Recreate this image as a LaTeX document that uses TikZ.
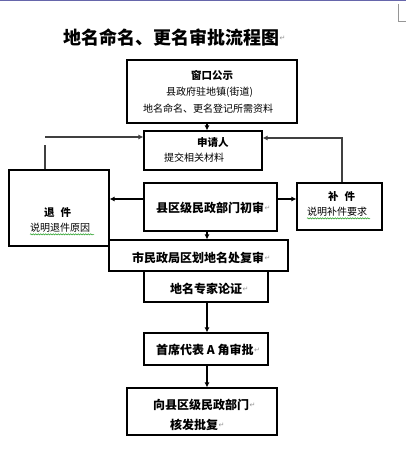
\documentclass[tikz,border=0pt]{standalone}
\usepackage{fontspec}
\setmainfont{Noto Sans CJK SC}
\newfontfamily\cjk{Noto Sans CJK SC}
\newfontfamily\djv{DejaVu Sans}
\usetikzlibrary{arrows.meta,decorations.pathmorphing}
\definecolor{pmark}{RGB}{150,150,150}
\definecolor{wavy}{RGB}{40,160,40}
\tikzset{
  box/.style={draw=black, line width=1.1pt, inner sep=0pt},
  arr/.style={line width=1.6pt, -{Latex[length=5pt,width=5pt]}},
  conn/.style={line width=1.4pt, draw=black!75},
  small/.style={font=\cjk\fontsize{10}{12}\selectfont, inner sep=0pt, anchor=west},
  smallb/.style={font=\cjk\bfseries\fontsize{10.5}{12}\selectfont, inner sep=0pt, anchor=west},
  big/.style={font=\cjk\bfseries\fontsize{12}{14}\selectfont, inner sep=0pt, anchor=west},
  pm/.style={font=\djv\fontsize{7}{8}\selectfont, text=pmark, inner sep=0pt, anchor=west},
  wav/.style={draw=wavy, line width=0.5pt, decorate, decoration={snake, amplitude=0.6pt, segment length=2.5pt}}
}
\begin{document}
\begin{tikzpicture}[x=1pt,y=-1pt]
\useasboundingbox (0,0) rectangle (406,463);
\fill[white] (0,0) rectangle (406,463);
% page edge and corner mark
\draw[draw=black!55!blue!60, line width=1.4pt] (0,0.7) -- (406,0.7);
\draw[draw=pmark, line width=0.6pt] (398,4) -- (398,21) -- (406,21);
% title
\node[font=\cjk\bfseries\fontsize{18}{20}\selectfont, inner sep=0pt, anchor=west] (title) at (63,38) {地名命名、更名审批流程图};
\node[pm] (titlepm) at (title.east) {↵};
% boxes
\node[box, minimum width=170pt, minimum height=63pt] (b1) at (212,91.5) {};
\node[box, minimum width=118pt, minimum height=39pt] (sq) at (203,150.5) {};
\node[box, minimum width=100pt, minimum height=76pt] (tj) at (59,208) {};
\node[box, minimum width=133pt, minimum height=48pt] (cs) at (210.5,207) {};
\node[box, minimum width=85pt, minimum height=47pt] (bj) at (339.5,206.5) {};
\node[box, minimum width=179pt, minimum height=31pt] (fs) at (198.5,255.5) {};
\node[box, minimum width=124pt, minimum height=31pt] (lz) at (206,286.5) {};
\node[box, minimum width=124pt, minimum height=32pt] (sp) at (206,349) {};
\node[box, minimum width=150pt, minimum height=47pt] (hf) at (202,411.5) {};
% texts
\node[smallb] (t1a) at (191,75) {窗口公示};
\node[small] (t1b) at (166,92) {县政府驻地镇(街道)};
\node[small] (t1c) at (143,109) {地名命名、更名登记所需资料};
\node[smallb] (t2a) at (197,143) {申请人};
\node[small] (t2b) at (164,158) {提交相关材料};
\node[smallb] (t3a) at (44,213) {退\hspace{6pt}件};
\node[small] (t3b) at (30,228) {说明退件原因};
\node[smallb] (t5a) at (328,196) {补\hspace{6pt}件};
\node[small] (t5b) at (307,212) {说明补件要求};
\node[big] (t4) at (156,208) {县区级民政部门初审};
\node[pm] at (t4.east) {↵};
\node[big] (t6) at (132,258) {市民政局区划地名处复审};
\node[pm] at (t6.east) {↵};
\node[big] (t7) at (170,289) {地名专家论证};
\node[pm] at (t7.east) {↵};
\node[big] (t8) at (156,350) {首席代表 A 角审批};
\node[pm] at (t8.east) {↵};
\node[big] (t9a) at (153,405) {向县区级民政部门};
\node[pm] at (t9a.east) {↵};
\node[big] (t9b) at (170,425) {核发批复};
\node[pm] at (t9b.east) {↵};
% wavy underlines
\draw[wav] (t3b.south west) ++(0,1.5) -- ++(64,0);
\draw[wav] (t5b.south west) ++(0,1.5) -- ++(63,0);
% helper coordinates
\coordinate (ax) at (207,0);
\coordinate (ly) at (0,199);
\coordinate (lx) at (45,0);
\coordinate (rx) at (342,0);
\coordinate (ty) at (0,137);
\coordinate (ry) at (0,138);
% vertical flow
\draw[arr] (b1.south -| ax) -- (sq.north -| ax);
\draw[arr] (cs.south -| ax) -- (fs.north -| ax);
\draw[arr] (lz.south -| ax) -- (sp.north -| ax);
\draw[arr] (sp.south -| ax) -- (hf.north -| ax);
% side flows
\draw[arr] (cs.west |- ly) -- (tj.east |- ly);
\draw[arr] (cs.east |- ly) -- (bj.west |- ly);
% feedback loops
\draw[conn] (tj.north -| lx) -- ([yshift=-8pt]lx |- ty);
\draw[conn, arr, draw=black!75] (lx |- ty) -- (sq.west |- ty);
\draw[conn, arr, draw=black!75] (bj.north -| rx) -- (rx |- ry) -- (sq.east |- ry);
\end{tikzpicture}
\end{document}
